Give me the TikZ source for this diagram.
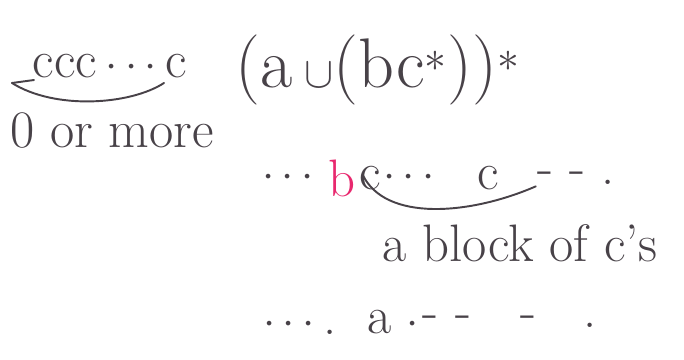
\documentclass[tikz,border=0pt]{standalone}
\usetikzlibrary{positioning}
\definecolor{ink}{RGB}{72,66,72}
\definecolor{pinkb}{RGB}{232,40,110}
\tikzset{
  hand/.style={text=ink, inner sep=0pt, font=\fontsize{30}{34}\selectfont},
  bighand/.style={text=ink, inner sep=0pt, font=\fontsize{40}{46}\selectfont},
  brace/.style={draw=ink, line width=1.1pt, line cap=round}
}
\begin{document}
\begin{tikzpicture}[x=0.02cm, y=-0.02cm]
  \useasboundingbox (0,0) rectangle (684,359);
  % top left: the block under the star
  \node[hand] (cs) at (110,66) {ccc\,$\cdots$\,c};
  \node[hand] (zero) at (112,130) {0 or more};
  \coordinate (csL) at (12,83);
  \coordinate (csR) at (164,83);
  \draw[brace] (csL) -- ++(22,-3);
  \draw[brace] (csL) .. controls (55,110) and (130,105) .. (csR);
  % the expression
  \node[bighand] (regex) at (378,70) {(a\,$\cup$(bc$^{*}$))$^{*}$};
  % a string it matches
  \node[hand] (dotsL) at (288,178) {$\cdots$};
  \node[hand, text=pinkb, right=8pt of dotsL] (b) {b};
  \node[hand, right=2pt of b] (c1) {c};
  \node[hand, right=1pt of c1] (dotsM) {$\cdots$};
  \node[hand, right=24pt of dotsM] (c2) {c};
  \node[hand, right=22pt of c2] (dotsR) {- - .};
  \draw[brace] ([xshift=2pt,yshift=2pt]c1.west)
    .. controls (385,222) and (470,215) .. ([xshift=-1pt,yshift=-1pt]dotsR.south west);
  \node[hand] (blk) at (520,243) {a block of c's};
  % another string
  \node[hand] (dotsA) at (300,325) {$\cdots$\,.};
  \node[hand] (a) at (380,322) {a};
  \node[hand] (t1) at (413,325) {$\cdot$};
  \node[hand] (t2) at (430,322) {-};
  \node[hand] (t3) at (463,322) {-};
  \node[hand] (t4) at (528,322) {-};
  \node[hand] (t5) at (590,325) {.};
\end{tikzpicture}
\end{document}
